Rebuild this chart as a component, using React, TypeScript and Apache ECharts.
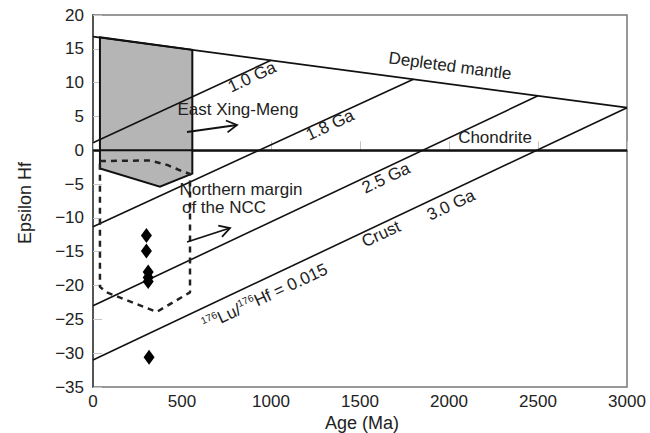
import React, { useEffect, useRef } from 'react';
import * as echarts from 'echarts';

// ---- data (Age in Ma, epsilon Hf) ----
const xTickValues = [0, 500, 1000, 1500, 2000, 2500, 3000];
const yTickValues = [20, 15, 10, 5, 0, -5, -10, -15, -20, -25, -30, -35];
const depletedMantle = [[0, 16.8], [3000, 6.3]];
const chondrite = [[0, 0], [3000, 0]];
const crust10Ga = [[0, 1.1], [1000, 13.3]];
const crust18Ga = [[0, -11.3], [1800, 10.5]];
const crust25Ga = [[0, -23.0], [2500, 8.05]];
const crust30Ga = [[0, -31.0], [3000, 6.3]];
const eastXingMeng = [[39, 16.7], [558, 14.85], [558, -3.45], [376, -5.4], [39, -2.7]];
const northernMarginNCC = [
  [39, -1.6], [320, -1.5], [420, -2.2], [500, -3.1], [545, -3.5],
  [545, -21.0], [358, -23.9], [77, -21.0], [39, -20.2], [39, -1.6],
];
const samples = [[300, -12.6], [300, -14.9], [310, -18.0], [310, -18.8], [310, -19.4], [315, -30.6]];

const FONT = '"Liberation Sans", Arial, Helvetica, sans-serif';
const TXT = '#222';
const deg = (d: number) => (d * Math.PI) / 180;

function arrow(x1: number, y1: number, x2: number, y2: number, len = 12, ang = 30) {
  const dx = x2 - x1, dy = y2 - y1;
  const L = Math.hypot(dx, dy);
  const ux = -dx / L, uy = -dy / L;
  const a = deg(ang);
  const r1 = [ux * Math.cos(a) - uy * Math.sin(a), ux * Math.sin(a) + uy * Math.cos(a)];
  const r2 = [ux * Math.cos(-a) - uy * Math.sin(-a), ux * Math.sin(-a) + uy * Math.cos(-a)];
  const st = { stroke: '#111', lineWidth: 1.8, fill: null as any };
  return [
    { type: 'line', shape: { x1, y1, x2, y2 }, style: st, z: 100 },
    {
      type: 'polyline',
      shape: { points: [[x2 + r1[0] * len, y2 + r1[1] * len], [x2, y2], [x2 + r2[0] * len, y2 + r2[1] * len]] },
      style: st,
      z: 100,
    },
  ];
}

function label(text: string, x: number, y: number, rot = 0, size = 17, extra: any = {}) {
  return {
    type: 'text',
    x,
    y,
    rotation: deg(rot),
    z: 100,
    style: {
      text,
      fill: TXT,
      font: `${size}px ${FONT}`,
      align: 'center',
      verticalAlign: 'middle',
      ...extra,
    },
  };
}

const lineSeries = (data: number[][], width = 1.6) => ({
  type: 'line',
  data,
  symbol: 'none',
  lineStyle: { color: '#111', width },
  z: 3,
  silent: true,
});

export default function App() {
  const ref = useRef<HTMLDivElement>(null);
  useEffect(() => {
    if (!ref.current) return;
    const chart = echarts.init(ref.current, null, { renderer: 'svg' });
    chart.setOption({
      animation: false,
      grid: { left: 93, right: 23, top: 15, bottom: 46, show: true, borderColor: '#777', borderWidth: 1.5 },
      xAxis: {
        type: 'value',
        min: xTickValues[0],
        max: xTickValues[xTickValues.length - 1],
        interval: 500,
        axisLine: { show: true, lineStyle: { color: '#555', width: 2 } },
        axisTick: { show: true, inside: true, length: 9, lineStyle: { color: '#c4c4c4', width: 1 } },
        axisLabel: { color: TXT, fontSize: 17, fontFamily: FONT, margin: 6, formatter: (v: number) => String(v) },
        splitLine: { show: false },
      },
      yAxis: {
        type: 'value',
        min: yTickValues[yTickValues.length - 1],
        max: yTickValues[0],
        interval: 5,
        axisLine: { show: true, lineStyle: { color: '#555', width: 2 } },
        axisTick: { show: true, inside: true, length: 9, lineStyle: { color: '#c4c4c4', width: 1 } },
        axisLabel: {
          color: TXT,
          fontSize: 17,
          fontFamily: FONT,
          margin: 9,
          formatter: (v: number) => (v < 0 ? '\u2212' + Math.abs(v) : String(v)),
        },
        splitLine: { show: false },
      },
      series: [
        {
          type: 'custom',
          data: [[0, 0]],
          z: 1,
          silent: true,
          renderItem: (_p: any, api: any) => ({
            type: 'polygon',
            shape: { points: eastXingMeng.map((pt) => api.coord(pt)) },
            style: { fill: '#b5b5b5', stroke: '#111', lineWidth: 2 },
          }),
        },
        lineSeries(depletedMantle, 1.8),
        lineSeries(chondrite, 1.8),
        lineSeries(crust10Ga),
        lineSeries(crust18Ga),
        lineSeries(crust25Ga),
        lineSeries(crust30Ga),
        {
          type: 'line',
          data: northernMarginNCC,
          symbol: 'none',
          lineStyle: { color: '#222', width: 2.5, type: [6, 5] },
          z: 4,
          silent: true,
        },
        {
          type: 'scatter',
          data: samples,
          symbol: 'diamond',
          symbolSize: [11, 15],
          itemStyle: { color: '#000', opacity: 1 },
          z: 5,
          silent: true,
        },
      ],
      graphic: [
        label('Depleted mantle', 450, 66, -7.5),
        label('1.0 Ga', 252, 77, 25),
        label('1.8 Ga', 330, 125, 25),
        label('2.5 Ga', 386, 178, 25),
        label('3.0 Ga', 451, 205, 25),
        label('Crust', 381, 234, 25),
        label('Chondrite', 495, 137, 0),
        {
          type: 'text',
          x: 265,
          y: 297,
          rotation: deg(25),
          z: 100,
          style: {
            text: '{s|176}{n|Lu/}{s|176}{n|Hf = 0.015}',
            align: 'center',
            verticalAlign: 'middle',
            fill: TXT,
            rich: {
              s: { fontSize: 10, fontFamily: FONT, fill: TXT, verticalAlign: 'top', lineHeight: 20 },
              n: { fontSize: 17, fontFamily: FONT, fill: TXT, lineHeight: 20 },
            },
          },
        },
        label('East Xing-Meng', 238, 109, 0),
        label('Northern margin', 241, 189, 0),
        label('of the NCC', 224, 207, 0),
        ...arrow(187, 132, 237, 125),
        ...arrow(187, 242, 230, 228),
        label('Age (Ma)', 362, 423, 0, 18),
        label('Epsilon Hf', 25, 203, 90, 18),
      ],
    });
    return () => chart.dispose();
  }, []);
  return <div ref={ref} style={{ position: 'fixed', left: 0, top: 0, width: 650, height: 433, background: '#fff' }} />;
}
